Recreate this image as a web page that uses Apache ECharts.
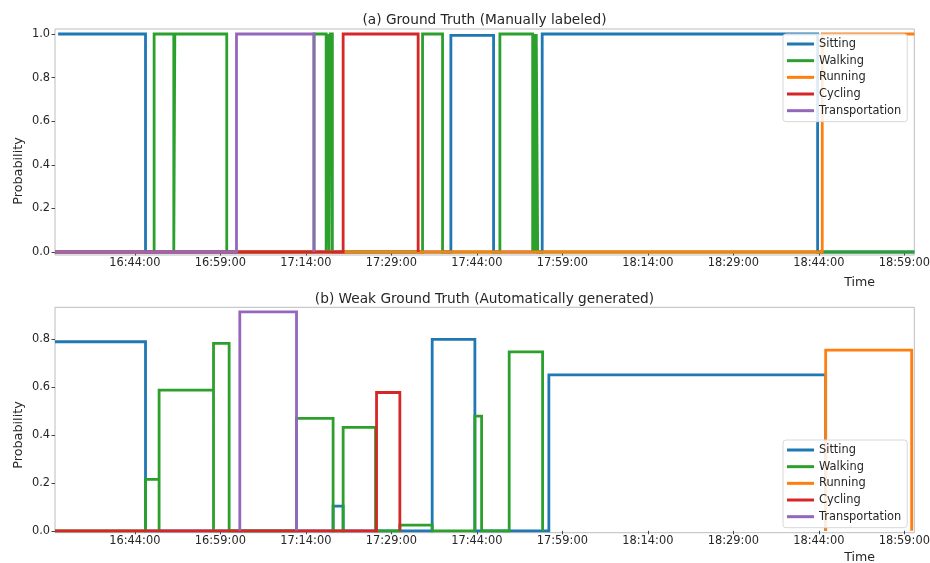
<!DOCTYPE html>
<html><head><meta charset="utf-8">
<script src="https://cdn.jsdelivr.net/npm/echarts@6/dist/echarts.min.js"></script>
<style>html,body{margin:0;padding:0;background:#fff}#c{width:930px;height:563px}</style>
</head><body><div id="c"></div>
<script>
// ---- data (time in minutes after midnight; each value holds until the next time) ----
const seriesNames = ['Sitting', 'Walking', 'Running', 'Cycling', 'Transportation'];
const xTicks = [1004, 1019, 1034, 1049, 1064, 1079, 1094, 1109, 1124, 1139];
const yTicksA = [0, 0.2, 0.4, 0.6, 0.8, 1.0];
const yTicksB = [0, 0.2, 0.4, 0.6, 0.8];

// (a) Ground Truth
const aSittingT = [990.55, 1005.88, 1059.45, 1066.94, 1075.47, 1123.79, 1140.75];
const aSittingV = [1, 0, 0.994, 0, 1, 0, 0];
const aWalkingT = [990.0, 1007.39, 1010.84, 1011.02, 1020.13, 1035.46, 1037.57, 1037.83, 1038.09, 1038.30, 1038.66, 1054.48, 1057.99, 1068.05, 1073.80, 1074.01, 1074.22, 1074.43, 1074.68, 1140.75];
const aWalkingV = [0, 1, 0, 1, 0, 1, 0, 1, 0, 1, 0, 1, 0, 1, 0, 1, 0, 1, 0, 0];
const aRunningT = [990.0, 1124.60, 1140.75];
const aRunningV = [0, 1, 1];
const aCyclingT = [990.0, 1040.55, 1053.71];
const aCyclingV = [0, 1, 0];
const aTransT = [990.0, 1021.84, 1035.41];
const aTransV = [0, 1, 0];

// (b) Weak Ground Truth
const bSittingT = [990.0, 1005.88, 1038.79, 1040.55, 1056.17, 1063.66, 1076.64, 1125.20];
const bSittingV = [0.790, 0, 0.103, 0, 0.800, 0, 0.652, 0];
const bWalkingT = [990.0, 1005.88, 1008.26, 1008.26, 1017.81, 1017.81, 1020.55, 1032.37, 1038.79, 1040.55, 1046.23, 1050.50, 1056.17, 1063.66, 1064.84, 1069.68, 1075.54];
const bWalkingV = [0, 0.215, 0, 0.588, 0, 0.783, 0, 0.470, 0, 0.432, 0, 0.024, 0, 0.479, 0, 0.748, 0];
const bRunningT = [1125.20, 1125.20, 1140.29];
const bRunningV = [0, 0.755, 0];
const bCyclingT = [990.0, 1046.41, 1050.50];
const bCyclingV = [0, 0.578, 0];
const bTransT = [1022.42, 1022.42, 1032.37];
const bTransV = [0, 0.915, 0];

// ---- build ----
const colors = ['#1f77b4', '#2ca02c', '#ff7f0e', '#d62728', '#9467bd'];
const FONT = 'DejaVu Sans';
const TXT = '#262626';

function steps(T, V) {
  const d = [];
  for (let i = 0; i < T.length - 1; i++) {
    d.push([T[i], V[i]]);
    d.push([T[i + 1], V[i]]);
  }
  d.push([T[T.length - 1], V[V.length - 1]]);
  return d;
}
function fmtTime(m) {
  const h = Math.floor(m / 60), mm = Math.round(m - h * 60);
  return String(h).padStart(2, '0') + ':' + String(mm).padStart(2, '0') + ':00';
}

const chartA = [[aSittingT, aSittingV], [aWalkingT, aWalkingV], [aRunningT, aRunningV], [aCyclingT, aCyclingV], [aTransT, aTransV]];
const chartB = [[bSittingT, bSittingV], [bWalkingT, bWalkingV], [bRunningT, bRunningV], [bCyclingT, bCyclingV], [bTransT, bTransV]];

const series = [];
[chartA, chartB].forEach((chart, gi) => {
  chart.forEach((pair, si) => {
    series.push({
      name: seriesNames[si], type: 'line', xAxisIndex: gi, yAxisIndex: gi,
      data: steps(pair[0], pair[1]), showSymbol: false, symbol: 'none',
      animation: false, clip: false,
      lineStyle: { color: colors[si], width: 2.8, cap: 'butt', join: 'miter' },
      itemStyle: { color: colors[si] }
    });
  });
});

function xAxis(gi) {
  return {
    type: 'value', gridIndex: gi, min: 990, max: 1140.75,
    splitLine: { show: false },
    axisLine: { show: false },
    axisTick: { show: true, length: 3.5, inside: false, customValues: xTicks, lineStyle: { color: '#444', width: 1 } },
    axisLabel: { customValues: xTicks, formatter: fmtTime, fontFamily: FONT, fontSize: 11.4, color: TXT, margin: 3, hideOverlap: false }
  };
}
function yAxis(gi, min, max, ticks) {
  return {
    type: 'value', gridIndex: gi, min: min, max: max,
    splitLine: { show: false },
    axisLine: { show: false },
    axisTick: { show: true, length: 3.5, customValues: ticks, lineStyle: { color: '#444', width: 1 } },
    axisLabel: { customValues: ticks, formatter: v => v.toFixed(1), fontFamily: FONT, fontSize: 11.4, color: TXT, margin: 5 }
  };
}
function legend(top) {
  return {
    data: seriesNames, orient: 'vertical', left: 783, top: top,
    icon: 'rect', itemWidth: 27, itemHeight: 3, itemGap: 2.67,
    padding: [3, 6, 4, 4],
    backgroundColor: 'rgba(255,255,255,0.85)', borderColor: '#d8d8d8', borderWidth: 1, borderRadius: 3,
    textStyle: { fontFamily: FONT, fontSize: 11.4, color: TXT, lineHeight: 14 },
    selectedMode: false
  };
}
function txt(x, y, s, size, rot) {
  return {
    type: 'text', x: x, y: y, rotation: rot || 0,
    style: { text: s, fontFamily: FONT, fontSize: size, fill: TXT, align: 'center', verticalAlign: 'middle' }
  };
}

const option = {
  backgroundColor: '#fff',
  animation: false,
  grid: [
    { left: 55, right: 15.7, top: 29, height: 226, outerBoundsMode: 'none', containLabel: false, show: true, borderColor: '#bdbdbd', borderWidth: 1, backgroundColor: 'transparent' },
    { left: 55, right: 15.7, top: 307.3, height: 225.4, outerBoundsMode: 'none', containLabel: false, show: true, borderColor: '#bdbdbd', borderWidth: 1, backgroundColor: 'transparent' }
  ],
  xAxis: [xAxis(0), xAxis(1)],
  yAxis: [yAxis(0, -0.0138, 1.023, yTicksA), yAxis(1, -0.008, 0.934, yTicksB)],
  legend: [legend(34), legend(440)],
  series: series,
  graphic: [
    txt(484.5, 20, '(a) Ground Truth (Manually labeled)', 13.7),
    txt(484.5, 299, '(b) Weak Ground Truth (Automatically generated)', 13.7),
    txt(19, 171, 'Probability', 12.8, Math.PI / 2),
    txt(19, 435, 'Probability', 12.8, Math.PI / 2),
    txt(859.7, 282.7, 'Time', 12.6),
    txt(859.7, 558, 'Time', 12.6)
  ]
};
const chart = echarts.init(document.getElementById('c'), null, { renderer: 'canvas' });
chart.setOption(option);
</script>
</body></html>
